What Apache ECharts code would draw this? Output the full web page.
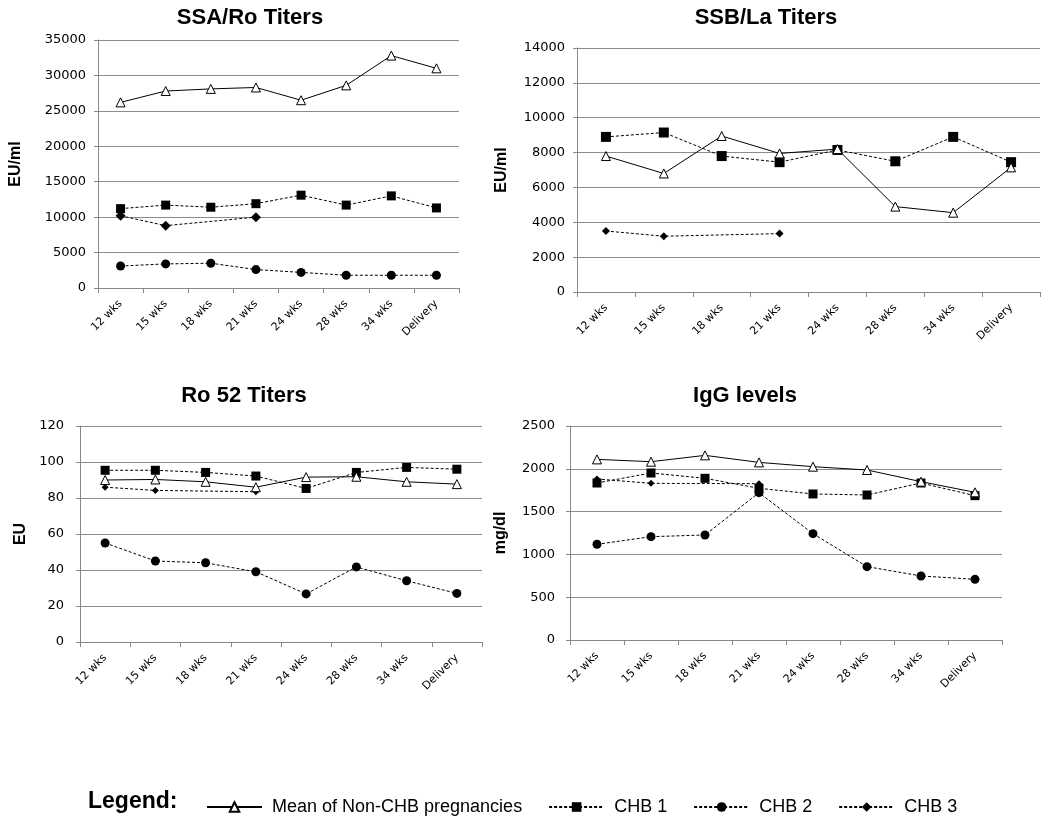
<!DOCTYPE html>
<html>
<head>
<meta charset="utf-8">
<script src="https://cdn.jsdelivr.net/npm/echarts@6/dist/echarts.min.js"></script>
<style>
  html, body { margin: 0; padding: 0; background: #fff; }
  #main { width: 1050px; height: 823px; }
</style>
</head>
<body>
<div id="main"></div>
<script>
	// categories (same for all four panels)
	var categories = ['12 wks', '15 wks', '18 wks', '21 wks', '24 wks', '28 wks', '34 wks', 'Delivery'];

	// SSA/Ro titers
	var ssaMean = [26200, 27800, 28100, 28300, 26500, 28600, 32800, 31000];
	var ssaChb1 = [11200, 11700, 11400, 11900, 13100, 11700, 13000, 11300];
	var ssaChb2 = [3100, 3400, 3500, 2600, 2200, 1800, 1800, 1800];
	var ssaChb3 = [10200, 8800, null, 10000, null, null, null, null];

	// SSB/La titers
	var ssbMean = [7800, 6800, 8950, 7950, 8200, 4900, 4550, 7150];
	var ssbChb1 = [8900, 9150, 7800, 7450, 8150, 7500, 8900, 7450];
	var ssbChb3 = [3500, 3200, null, 3350, null, null, null, null];

	// Ro 52 titers
	var roMean = [90, 90.3, 89, 86, 91.6, 91.8, 89, 87.7];
	var roChb1 = [95.4, 95.4, 94.2, 92.2, 85.3, 94.2, 97, 96];
	var roChb2 = [55, 45, 44, 39, 26.7, 41.7, 34, 27];
	var roChb3 = [86, 84.2, null, 83.5, null, null, null, null];

	// IgG levels
	var iggMean = [2110, 2083, 2157, 2075, 2025, 1986, 1850, 1725];
	var iggChb1 = [1834, 1951, 1889, 1772, 1706, 1694, 1834, 1686];
	var iggChb2 = [1118, 1207, 1227, 1721, 1242, 857, 748, 709];
	var iggChb3 = [1881, 1830, null, 1826, null, null, null, null];

	var NAMES = ['Mean of Non-CHB pregnancies', 'CHB 1', 'CHB 2', 'CHB 3'];
	var SYMBOLS = ['triangle', 'rect', 'circle', 'diamond'];

	function mkSeries(k, data, idx, size) {
		var mean = k === 0;
		return {
			name: NAMES[k],
			type: 'line',
			xAxisIndex: idx,
			yAxisIndex: idx,
			data: data,
			connectNulls: true,
			symbol: SYMBOLS[k],
			symbolSize: size || 9,
			showAllSymbol: true,
			lineStyle: { color: '#000', width: 1, type: mean ? 'solid' : [3, 2] },
			itemStyle: mean ? { color: '#fff', borderColor: '#000', borderWidth: 1 } : { color: '#000', borderWidth: 0 },
			z: mean ? 3 : 2
		};
	}

	var grids = [
		{ left: 98, top: 40, width: 361, height: 248 },
		{ left: 577, top: 48, width: 463, height: 244 },
		{ left: 80, top: 426, width: 402, height: 216 },
		{ left: 570, top: 426, width: 432, height: 214 }
	];
	var yCfg = [
		{ max: 35000, interval: 5000, name: 'EU/ml', gap: 74, margin: 12 },
		{ max: 14000, interval: 2000, name: 'EU/ml', gap: 67, margin: 12 },
		{ max: 120, interval: 20, name: 'EU', gap: 51, margin: 16 },
		{ max: 2500, interval: 500, name: 'mg/dl', gap: 61, margin: 15 }
	];

	var xAxes = [], yAxes = [];
	for (var i = 0; i < 4; i++) {
		xAxes.push({
			type: 'category',
			gridIndex: i,
			data: categories,
			boundaryGap: true,
			axisLine: { lineStyle: { color: '#888', width: 1 } },
			axisTick: { show: true, length: 5, lineStyle: { color: '#888' } },
			axisLabel: { rotate: 45, color: '#000', fontFamily: 'DejaVu Sans', fontSize: 11, interval: 0, margin: 14 }
		});
		yAxes.push({
			type: 'value',
			gridIndex: i,
			min: 0,
			max: yCfg[i].max,
			interval: yCfg[i].interval,
			name: yCfg[i].name,
			nameLocation: 'middle',
			nameGap: yCfg[i].gap,
			nameRotate: 90,
			nameTextStyle: { color: '#000', fontFamily: 'Liberation Sans', fontWeight: 'bold', fontSize: 16 },
			axisLine: { show: true, lineStyle: { color: '#888', width: 1 } },
			axisTick: { show: true, length: 4, lineStyle: { color: '#888' } },
			splitLine: { lineStyle: { color: '#8c8c8c', width: 1 } },
			axisLabel: { color: '#000', fontFamily: 'DejaVu Sans', fontSize: 13, margin: yCfg[i].margin, formatter: function (v) { return String(v); } }
		});
	}

	var series = [
		mkSeries(0, ssaMean, 0), mkSeries(1, ssaChb1, 0), mkSeries(2, ssaChb2, 0), mkSeries(3, ssaChb3, 0, 10),
		mkSeries(0, ssbMean, 1), mkSeries(1, ssbChb1, 1, 10), mkSeries(3, ssbChb3, 1, 8),
		mkSeries(0, roMean, 2), mkSeries(1, roChb1, 2), mkSeries(2, roChb2, 2), mkSeries(3, roChb3, 2, 7),
		mkSeries(0, iggMean, 3), mkSeries(1, iggChb1, 3), mkSeries(2, iggChb2, 3), mkSeries(3, iggChb3, 3, 7)
	];

	var titleStyle = { color: '#000', fontFamily: 'Liberation Sans', fontWeight: 'bold', fontSize: 22 };

	var chart = echarts.init(document.getElementById('main'));
	chart.setOption({
		backgroundColor: '#fff',
		animation: false,
		title: [
			{ text: 'SSA/Ro Titers', left: 245, top: 2, textAlign: 'center', textStyle: titleStyle },
			{ text: 'SSB/La Titers', left: 761, top: 2, textAlign: 'center', textStyle: titleStyle },
			{ text: 'Ro 52 Titers', left: 239, top: 380, textAlign: 'center', textStyle: titleStyle },
			{ text: 'IgG levels', left: 740, top: 380, textAlign: 'center', textStyle: titleStyle }
		],
		grid: grids,
		xAxis: xAxes,
		yAxis: yAxes,
		legend: {
			data: NAMES,
			left: 201,
			top: 793,
			itemWidth: 55,
			itemHeight: 12,
			itemGap: 26,
			selectedMode: false,
			textStyle: { color: '#000', fontFamily: 'Liberation Sans', fontSize: 18, padding: [0, 0, 0, 5] }
		},
		graphic: [
			{
				type: 'text',
				left: 88,
				top: 790,
				style: { text: 'Legend:', fill: '#000', font: 'bold 23px "Liberation Sans"' }
			}
		],
		series: series
	});
</script>
</body>
</html>
